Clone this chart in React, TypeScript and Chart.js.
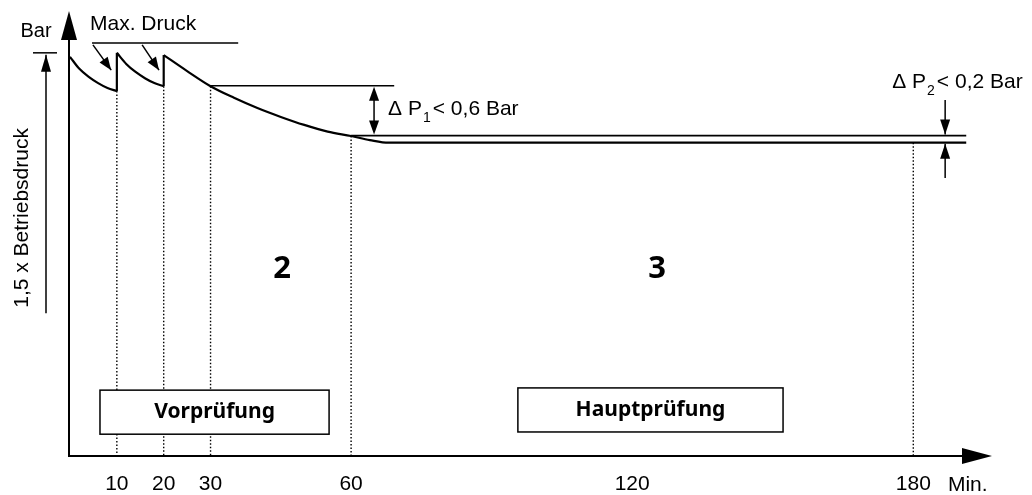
import React, { useEffect, useRef } from "react";
import { Chart, registerables } from "chart.js";

Chart.register(...registerables);

// ---- data (minutes / relative pressure units, 0..100 on the y axis) ----
const tickMinutes = [10, 20, 30, 60, 120, 180];

const seg1Min = [0, 2, 4, 6, 8, 10];
const seg1Val = [89.7, 87.0, 85.2, 83.8, 82.7, 82.0];

const seg2Min = [10, 12, 14, 16, 18, 20];
const seg2Val = [90.6, 88.1, 86.3, 84.9, 83.8, 83.1];

const seg3Min = [20, 25, 30, 35, 40, 45, 50, 55, 60, 64, 68, 80, 120, 191.3];
const seg3Val = [90.1, 86.5, 83.1, 80.5, 78.2, 76.2, 74.4, 72.9, 71.9, 71.0, 70.4, 70.4, 70.4, 70.4];

const jumpMin = [10, 20];
const jumpLow = [82.0, 83.1];
const jumpHigh = [90.6, 90.1];

const maxLineMin = [4.7, 35.9];
const maxLineVal = 92.8;
const p1LineMin = [30, 69.2];
const p1LineVal = 83.2;
const p2LineMin = [60, 191.3];
const p2LineVal = 72.0;
const p2LowerVal = 70.4;

const dropMin = [10, 20, 30, 60, 180];
const dropTop = [82.0, 83.1, 83.1, 71.9, 70.4];

const FONT = '"Liberation Sans", Arial, sans-serif';
const NARROW = '"Liberation Sans Narrow", "Liberation Sans", Arial, sans-serif';
const BOLD = '"Noto Sans", "Open Sans", sans-serif';

const pts = (xs: number[], ys: number[]) => xs.map((x, i) => ({ x, y: ys[i] }));

function head(ctx: CanvasRenderingContext2D, tx: number, ty: number, fx: number, fy: number, len: number, half: number) {
  const a = Math.atan2(ty - fy, tx - fx);
  const bx = tx - len * Math.cos(a);
  const by = ty - len * Math.sin(a);
  const px = -Math.sin(a) * half;
  const py = Math.cos(a) * half;
  ctx.beginPath();
  ctx.moveTo(tx, ty);
  ctx.lineTo(bx + px, by + py);
  ctx.lineTo(bx - px, by - py);
  ctx.closePath();
  ctx.fill();
}

function arrow(ctx: CanvasRenderingContext2D, x1: number, y1: number, x2: number, y2: number, len: number, half: number, w: number) {
  ctx.lineWidth = w;
  ctx.beginPath();
  ctx.moveTo(x1, y1);
  ctx.lineTo(x2, y2);
  ctx.stroke();
  head(ctx, x2, y2, x1, y1, len, half);
}

function deltaText(ctx: CanvasRenderingContext2D, x: number, y: number, sub: string, rest: string) {
  ctx.textAlign = "left";
  ctx.textBaseline = "alphabetic";
  ctx.font = `21px ${FONT}`;
  const a = "\u0394 P";
  ctx.fillText(a, x, y);
  let cx = x + ctx.measureText(a).width + 1;
  ctx.font = `14px ${FONT}`;
  ctx.fillText(sub, cx, y + 7);
  cx += ctx.measureText(sub).width + 2;
  ctx.font = `21px ${FONT}`;
  ctx.fillText(rest, cx, y);
}

const diagramPlugin = {
  id: "diagram",
  afterDatasetsDraw(chart: any) {
    const { ctx, chartArea, scales } = chart;
    const { left, right, top, bottom } = chartArea;
    const xs = (v: number) => scales.x.getPixelForValue(v);
    const ys = (v: number) => scales.y.getPixelForValue(v);
    ctx.save();
    ctx.strokeStyle = "#000";
    ctx.fillStyle = "#000";
    ctx.lineCap = "butt";

    // axes with arrows
    const ax = left - 1;
    ctx.lineWidth = 2;
    ctx.beginPath();
    ctx.moveTo(ax, bottom + 1);
    ctx.lineTo(ax, top + 20);
    ctx.stroke();
    head(ctx, ax, top, ax, bottom, 29, 8);
    ctx.beginPath();
    ctx.moveTo(ax - 1, bottom);
    ctx.lineTo(right - 20, bottom);
    ctx.stroke();
    head(ctx, right, bottom, left, bottom, 30, 8);

    // left bracket: 1,5 x Betriebsdruck
    const by = ys(90.6);
    ctx.lineWidth = 1.5;
    ctx.beginPath();
    ctx.moveTo(left - 37, by);
    ctx.lineTo(left - 13, by);
    ctx.stroke();
    arrow(ctx, left - 24, ys(32.1), left - 24, by + 2, 17, 5, 1.5);

    ctx.font = `20px ${FONT}`;
    ctx.textAlign = "center";
    ctx.textBaseline = "alphabetic";
    ctx.fillText("Bar", left - 34, ys(94.2));

    ctx.save();
    ctx.translate(22, ys(53.5));
    ctx.rotate(-Math.PI / 2);
    ctx.font = `21px ${FONT}`;
    ctx.textAlign = "center";
    ctx.textBaseline = "middle";
    ctx.fillText("1,5 x Betriebsdruck", 0, 0);
    ctx.restore();

    // Max. Druck
    ctx.font = `21px ${FONT}`;
    ctx.textAlign = "left";
    ctx.fillText("Max. Druck", xs(4.27), ys(95.7));
    arrow(ctx, xs(4.9), ys(92.4), xs(8.8), ys(86.7), 13, 5, 1.5);
    arrow(ctx, xs(15.4), ys(92.4), xs(19.0), ys(86.7), 13, 5, 1.5);

    // Delta P1
    const d1x = xs(64.9);
    ctx.lineWidth = 1.5;
    ctx.beginPath();
    ctx.moveTo(d1x, ys(p1LineVal) + 4);
    ctx.lineTo(d1x, ys(p2LineVal) - 4);
    ctx.stroke();
    head(ctx, d1x, ys(p1LineVal) + 1, d1x, ys(p2LineVal), 14, 5);
    head(ctx, d1x, ys(p2LineVal) - 1, d1x, ys(p1LineVal), 14, 5);
    deltaText(ctx, xs(67.9), ys(76.6), "1", "< 0,6 Bar");

    // Delta P2
    const d2x = xs(186.8);
    arrow(ctx, d2x, ys(80), d2x, ys(p2LineVal) - 1, 15, 5, 1.5);
    arrow(ctx, d2x, ys(62.5), d2x, ys(p2LowerVal) + 1, 15, 5, 1.5);
    deltaText(ctx, xs(175.5), ys(82.7), "2", "< 0,2 Bar");

    // boxes
    const box = (t0: number, t1: number, v0: number, v1: number, label: string) => {
      const x0 = xs(t0), x1 = xs(t1), y0 = ys(v1), y1 = ys(v0);
      ctx.fillStyle = "#fff";
      ctx.fillRect(x0, y0, x1 - x0, y1 - y0);
      ctx.lineWidth = 1.5;
      ctx.strokeStyle = "#000";
      ctx.strokeRect(x0, y0, x1 - x0, y1 - y0);
      ctx.fillStyle = "#000";
      ctx.font = `bold 21px ${BOLD}`;
      ctx.textAlign = "center";
      ctx.textBaseline = "middle";
      ctx.fillText(label, (x0 + x1) / 2, (y0 + y1) / 2);
    };
    box(6.4, 55.3, 4.9, 14.8, "Vorprüfung");
    box(95.6, 152.2, 5.4, 15.3, "Hauptprüfung");

    // phase numbers
    ctx.font = `bold 31px ${BOLD}`;
    ctx.textAlign = "center";
    ctx.textBaseline = "middle";
    ctx.fillText("2", xs(45.3), ys(42.0));
    ctx.fillText("3", xs(125.3), ys(42.0));

    // unit
    ctx.font = `21px ${FONT}`;
    ctx.textAlign = "left";
    ctx.textBaseline = "alphabetic";
    ctx.fillText("Min.", xs(187.4), bottom + 35);

    ctx.restore();
  },
};

export default function App() {
  const ref = useRef<HTMLCanvasElement | null>(null);

  useEffect(() => {
    if (!ref.current) return;
    const solid = { borderColor: "#000", borderWidth: 2.2, pointRadius: 0, fill: false };
    const thin = { borderColor: "#000", borderWidth: 1.6, pointRadius: 0, fill: false, tension: 0 };
    const datasets: any[] = [];
    dropMin.forEach((m, i) => {
      datasets.push({
        data: [{ x: m, y: dropTop[i] }, { x: m, y: 0 }],
        borderColor: "#000",
        borderWidth: 1.4,
        borderDash: [1.5, 2],
        pointRadius: 0,
        tension: 0,
      });
    });
    datasets.push({ ...solid, data: pts(seg1Min, seg1Val), cubicInterpolationMode: "monotone" });
    datasets.push({ ...solid, data: pts(seg2Min, seg2Val), cubicInterpolationMode: "monotone" });
    datasets.push({ ...solid, data: pts(seg3Min, seg3Val), cubicInterpolationMode: "monotone" });
    jumpMin.forEach((m, i) => {
      datasets.push({ ...solid, tension: 0, data: [{ x: m, y: jumpLow[i] }, { x: m, y: jumpHigh[i] }] });
    });
    datasets.push({ ...thin, data: pts(maxLineMin, [maxLineVal, maxLineVal]) });
    datasets.push({ ...thin, data: pts(p1LineMin, [p1LineVal, p1LineVal]) });
    datasets.push({ ...thin, data: pts(p2LineMin, [p2LineVal, p2LineVal]) });

    const chart = new Chart(ref.current, {
      type: "line",
      data: { datasets },
      options: {
        animation: false,
        responsive: false,
        devicePixelRatio: 1,
        layout: { padding: { left: 70, right: 40, top: 11, bottom: 0 } },
        plugins: { legend: { display: false }, tooltip: { enabled: false } },
        scales: {
          x: {
            type: "linear",
            min: 0,
            max: 196.8,
            afterBuildTicks: (axis: any) => {
              axis.ticks = tickMinutes.map((v) => ({ value: v }));
            },
            afterFit: (axis: any) => {
              axis.height = 39;
            },
            grid: { display: false, drawTicks: false },
            border: { display: false },
            ticks: {
              color: "#000",
              font: { family: NARROW, size: 21 },
              padding: 16,
              maxRotation: 0,
              autoSkip: false,
            },
          },
          y: { type: "linear", min: 0, max: 100, display: false },
        },
      },
      plugins: [diagramPlugin],
    } as any);
    return () => chart.destroy();
  }, []);

  return (
    <div style={{ position: "fixed", left: 0, top: 0, width: 1032, height: 495, background: "#fff" }}>
      <canvas ref={ref} width={1032} height={495} />
    </div>
  );
}
